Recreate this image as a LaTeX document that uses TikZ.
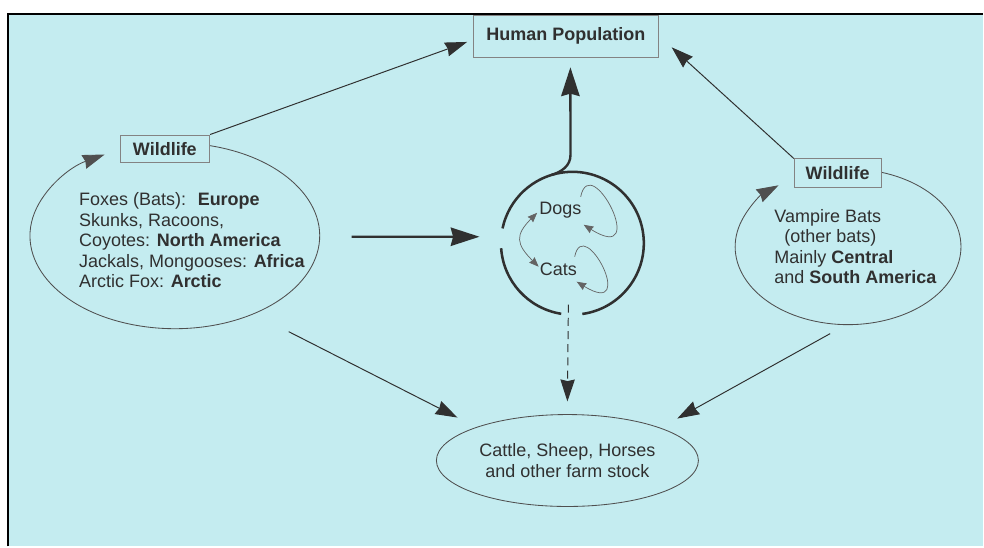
\documentclass[tikz,border=0pt]{standalone}
\usepackage{fontspec}
\setmainfont{Liberation Sans}
\usetikzlibrary{arrows.meta, shapes.geometric}
\definecolor{panel}{RGB}{196,236,240}
\definecolor{ink}{RGB}{48,48,48}
\tikzset{every node/.append style={text=ink, font=\fontsize{12.8}{14.6}\selectfont},
  box/.style={draw=ink!60, fill=panel, line width=0.5pt},
  ring/.style={draw=ink!85, line width=0.6pt},
  bigtip/.tip={Stealth[length=0.55cm, width=0.36cm, inset=0.04cm]},
  hugetip/.tip={Stealth[length=0.72cm, width=0.46cm, inset=0.06cm]},
  smalltip/.tip={Stealth[length=0.24cm, width=0.19cm, inset=0.02cm]},
  thin arrow/.style={draw=ink, line width=0.7pt, -{bigtip}},
  thick arrow/.style={draw=ink, line width=1.7pt, -{hugetip}},
  hubline/.style={draw=ink, line width=1.8pt},
  loopy/.style={draw=ink!75, line width=0.5pt, -{smalltip}}}

\begin{document}
\begin{tikzpicture}[x=0.025cm, y=0.025cm]
\fill[white] (0,0) rectangle (984,547);
\fill[panel] (8,0) rectangle (984,533);
\draw[line width=1.5pt, black] (8,0) -- (8,533) -- (984,533);
\useasboundingbox (0,0) rectangle (984,547);

\coordinate (hub) at (573,303.5);
\coordinate (feed) at (352,310);
\coordinate (fromL) at (289,215);
\coordinate (fromR) at (831,213);

\draw[ring, -{bigtip}] (210.1,401.2) arc[start angle=76, end angle=-241, x radius=145, y radius=93];
\draw[ring, -{bigtip}] (882,374.6) arc[start angle=73, end angle=-232, x radius=113, y radius=78];

\node[box, minimum width=4.625cm, minimum height=1.05cm] (human) at (566.5,511) {\textbf{Human Population}};
\node[box, minimum width=2.25cm, minimum height=0.7cm] (wildL) at (165,398) {\textbf{Wildlife}};
\node[box, minimum width=2.175cm, minimum height=0.725cm] (wildR) at (838.5,373.5) {\textbf{Wildlife}};
\node[ellipse, draw=ink!85, line width=0.6pt, minimum width=6.4cm, minimum height=2.3cm, align=center] (farm) at (568,86) {Cattle, Sheep, Horses\\and other farm stock};

\node[anchor=west, align=left, inner sep=0] (foxes) at (79,306.5) {Foxes (Bats): \ \textbf{Europe}\\Skunks, Racoons,\\Coyotes: \textbf{North America}\\Jackals, Mongooses: \textbf{Africa}\\Arctic Fox: \textbf{Arctic}};
\node[anchor=west, align=left, inner sep=0] (bats) at (775,300) {Vampire Bats\\\hspace*{0.25cm}(other bats)\\Mainly \textbf{Central}\\and \textbf{South America}};

\node[inner sep=0] (dogs) at (561,337) {Dogs};
\node[inner sep=0] (cats) at (559,277) {Cats};

\draw[hubline] ([shift={(278:71.5)}]hub) arc[start angle=278, end angle=528, radius=71.5];
\draw[hubline] ([shift={(184:71.5)}]hub) arc[start angle=184, end angle=261, radius=71.5];
\draw[hubline, thick arrow] ([shift={(107:71.5)}]hub) to[out=17, in=-90] ++(19,20) -- ([shift={(4.5,-10)}]human.south);
\draw[thick arrow] (feed) -- ([shift={(-93,6.5)}]hub);

\draw[loopy, {smalltip}-{smalltip}] ([shift={(-2,-3)}]dogs.west) to[out=225, in=135, looseness=1.5] ([shift={(-1,3)}]cats.west);
\draw[loopy] ([shift={(-1,13)}]dogs.east) .. controls +(10,48) and +(67,-42) .. ([shift={(2,-15)}]dogs.east);
\draw[loopy] ([shift={(-2.5,13)}]cats.east) .. controls +(9,44) and +(62,-38) .. ([shift={(-0.5,-12)}]cats.east);

\draw[thin arrow] (wildL.north east) -- ([shift={(-6,-6)}]human.west);
\draw[thin arrow] (wildR.north west) -- ([shift={(13,10)}]human.south east);
\draw[thin arrow, dash pattern=on 0.2cm off 0.13cm] ([shift={(-4,-61.5)}]hub) -- ([yshift=9]farm.north);
\draw[thin arrow] (fromL) -- ([shift={(-110,43)}]farm.center);
\draw[thin arrow] (fromR) -- ([shift={(110,42)}]farm.center);
\end{tikzpicture}
\end{document}
